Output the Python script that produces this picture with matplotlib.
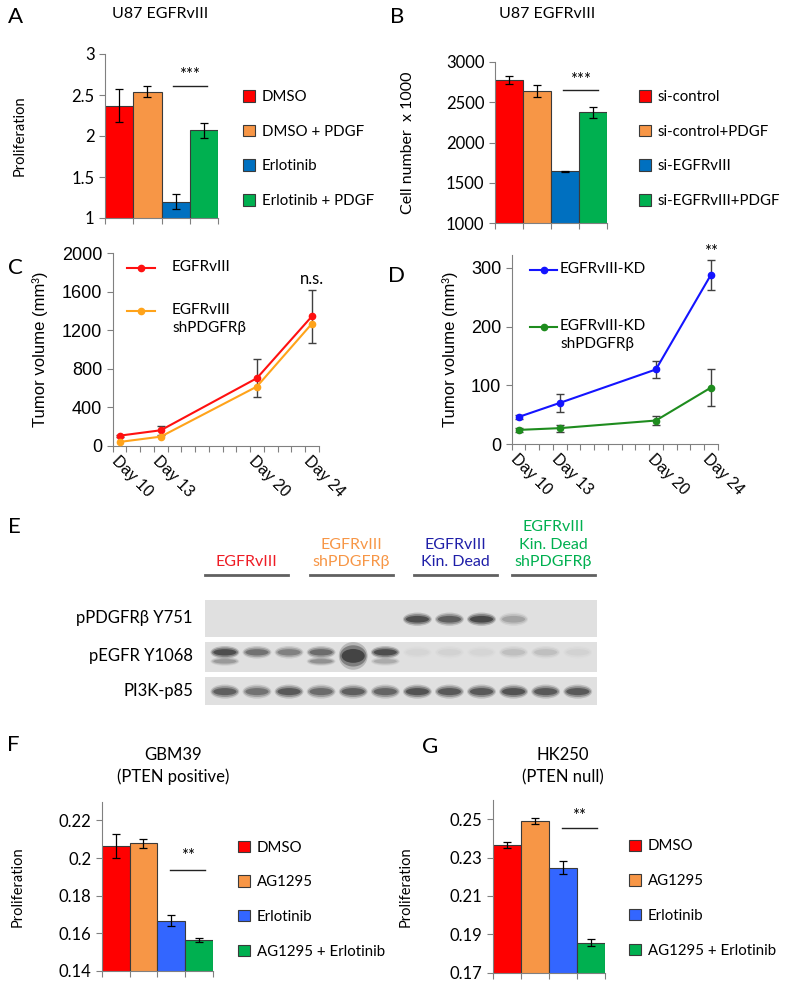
import numpy as np
import matplotlib
matplotlib.use("Agg")
import matplotlib.pyplot as plt
from matplotlib.patches import Patch, Ellipse

plt.rcParams['font.family'] = ['Lato', 'DejaVu Sans']

W, H = 789, 985
RED, ORANGE, BLUE, GREEN = '#ff0000', '#f79646', '#0070c0', '#00b050'
BLUE2 = '#3366ff'
ARIAL = ['Liberation Sans', 'DejaVu Sans']

# ---- data ----
a_labels = ['DMSO', 'DMSO + PDGF', 'Erlotinib', 'Erlotinib + PDGF']
a_vals = [2.37, 2.54, 1.20, 2.07]
a_errs = [0.20, 0.07, 0.09, 0.09]

b_labels = ['si-control', 'si-control+PDGF', 'si-EGFRvIII', 'si-EGFRvIII+PDGF']
b_vals = [2775, 2640, 1640, 2375]
b_errs = [50, 75, 6, 70]

days = [10, 13, 20, 24]
day_labels = ['Day 10', 'Day 13', 'Day 20', 'Day 24']
c_egfr = [107, 163, 703, 1343]
c_egfr_err = [10, 44, 200, 273]
c_sh = [42, 97, 616, 1267]

d_kd = [46, 70, 127, 288]
d_kd_err = [4, 16, 15, 25]
d_kd_sh = [24, 27, 40, 96]
d_kd_sh_err = [4, 6, 7, 31]

f_labels = ['DMSO', 'AG1295', 'Erlotinib', 'AG1295 + Erlotinib']
f_vals = [0.2065, 0.2078, 0.1667, 0.1565]
f_errs = [0.0063, 0.0025, 0.003, 0.001]

g_labels = ['DMSO', 'AG1295', 'Erlotinib', 'AG1295 + Erlotinib']
g_vals = [0.2367, 0.2490, 0.2248, 0.1857]
g_errs = [0.0015, 0.0017, 0.0035, 0.0017]

# western blot: band intensities for the 12 lanes
blot_rows = ['pPDGFRβ Y751', 'pEGFR Y1068', 'PI3K-p85']
blot_groups = ['EGFRvIII', 'EGFRvIII\nshPDGFRβ', 'EGFRvIII\nKin. Dead', 'EGFRvIII\nKin. Dead\nshPDGFRβ']
blot_group_colors = ['#ee1c25', '#f79646', '#1f1fa8', '#00b050']
band_pdgfr = [0, 0, 0, 0, 0, 0, 0.9, 0.75, 0.95, 0.3, 0, 0]
band_egfr = [0.9, 0.6, 0.5, 0.65, 1.0, 0.9, 0.04, 0.06, 0.04, 0.15, 0.15, 0.06]
band_egfr_low = [0.35, 0, 0, 0.4, 0, 0.25, 0, 0, 0, 0, 0, 0]
band_p85 = [0.75, 0.6, 0.8, 0.65, 0.75, 0.7, 0.85, 0.8, 0.8, 0.85, 0.8, 0.8]

fig = plt.figure(figsize=(W / 100, H / 100), dpi=100)


def add_ax(l, t, r, b):
    return fig.add_axes([l / W, 1 - b / H, (r - l) / W, (b - t) / H])


def ftext(x, y, s, **kw):
    fig.text(x / W, 1 - y / H, s, **kw)


def bar_panel(ax, labels, vals, errs, colors, ylim, yticks, ylabel, ylabel_x,
              sig, stars, leg_xy, ylfs=10.5):
    x = np.arange(len(vals))
    ax.bar(x, vals, width=1.0, color=colors, edgecolor='#3a3a3a', linewidth=0.8,
           yerr=errs, capsize=3, error_kw=dict(elinewidth=0.9, capthick=0.9, ecolor='black'))
    ax.set_xlim(-0.5, len(vals) - 0.5)
    ax.set_ylim(*ylim)
    ax.set_yticks(yticks)
    ax.set_yticklabels([f'{v:g}' for v in yticks], fontsize=12)
    ax.set_xticks(np.arange(len(vals) + 1) - 0.5)
    ax.set_xticklabels([])
    for s in ['top', 'right']:
        ax.spines[s].set_visible(False)
    for s in ['left', 'bottom']:
        ax.spines[s].set_color('#808080')
    ax.tick_params(color='#808080', length=4, width=0.8)
    ax.set_ylabel(ylabel, fontsize=ylfs)
    pos = ax.get_position()
    ax.yaxis.set_label_coords(ylabel_x / W, pos.y0 + pos.height / 2, transform=fig.transFigure)
    x0, x1, yl, ys = sig
    ax.plot([x0, x1], [yl, yl], color='#222222', lw=1)
    ax.text((x0 + x1) / 2, ys, stars, ha='center', va='center', fontsize=12)
    handles = [Patch(facecolor=c, edgecolor='#3a3a3a', linewidth=0.8) for c in colors]
    ax.legend(handles, labels, loc='upper left', bbox_to_anchor=(leg_xy[0] / W, 1 - leg_xy[1] / H),
              bbox_transform=fig.transFigure, frameon=False, fontsize=10.8,
              handlelength=0.8, handleheight=0.8, handletextpad=0.45,
              labelspacing=1.38, borderpad=0, borderaxespad=0)


def line_panel(ax, ylim, yticks, series, ylabel, ylabel_x, note, note_y):
    for vals, err, col in series:
        ax.plot(days, vals, color=col, lw=1.5, marker='o', ms=4.5, zorder=3)
        if err is not None:
            ax.errorbar(days, vals, yerr=err, fmt='none', ecolor='#404040', elinewidth=1,
                        capsize=3, capthick=1, zorder=2)
    ax.set_xlim(9.5, 24.5)
    ax.set_ylim(*ylim)
    ax.set_yticks(yticks)
    ax.set_yticklabels([str(v) for v in yticks], family=ARIAL, fontsize=13)
    ax.set_xticks(days)
    ax.set_xticklabels(day_labels, family=ARIAL, fontsize=11.5, rotation=-45,
                       ha='left', va='top', rotation_mode='anchor')
    ax.set_xticks(np.arange(9.5, 25, 1.0), minor=True)
    ax.tick_params(axis='x', which='major', length=0, pad=5)
    ax.tick_params(axis='x', which='minor', length=4, color='#808080', width=0.8)
    ax.tick_params(axis='y', length=4, color='#808080', width=0.8)
    for s in ['top', 'right']:
        ax.spines[s].set_visible(False)
    for s in ['left', 'bottom']:
        ax.spines[s].set_color('#808080')
    ax.set_ylabel(ylabel, family=ARIAL, fontsize=12)
    pos = ax.get_position()
    ax.yaxis.set_label_coords(ylabel_x / W, pos.y0 + pos.height / 2, transform=fig.transFigure)
    ax.text(24, note_y, note, ha='center', va='center', fontsize=12)


def line_legend(x0, x1, y, col, label, tx):
    # legend sample drawn in figure pixels
    fig.add_artist(plt.Line2D([x0 / W, x1 / W], [1 - y / H] * 2, color=col, lw=1.5))
    fig.add_artist(plt.Line2D([(x0 + x1) / 2 / W], [1 - y / H], color=col, marker='o', ms=4.5))
    ftext(tx, y - 8, label, ha='left', va='top', fontsize=11, linespacing=1.4)


# ---- A ----
axA = add_ax(105, 54, 218, 218)
bar_panel(axA, a_labels, a_vals, a_errs, [RED, ORANGE, BLUE, GREEN], (1, 3),
          [1, 1.5, 2, 2.5, 3], 'Proliferation', 27,
          (1.9, 3.1, 2.61, 2.74), '***', (243, 90))
ftext(160, 14, 'U87 EGFRvIII', ha='center', va='center', fontsize=11.5)
ftext(15, 17, 'A', ha='center', va='center', fontsize=16)

# ---- B ----
axB = add_ax(495, 62, 607, 223)
bar_panel(axB, b_labels, b_vals, b_errs, [RED, ORANGE, BLUE, GREEN], (1000, 3000),
          [1000, 1500, 2000, 2500, 3000], 'Cell number  x 1000', 415,
          (1.92, 3.19, 2655, 2780), '***', (639, 90), ylfs=11.5)
ftext(547, 14, 'U87 EGFRvIII', ha='center', va='center', fontsize=11.5)
ftext(397, 17, 'B', ha='center', va='center', fontsize=16)

# ---- C ----
axC = add_ax(112.7, 253, 318.7, 446)
line_panel(axC, (0, 2000), [0, 400, 800, 1200, 1600, 2000],
           [(c_egfr, c_egfr_err, '#ff1010'), (c_sh, None, '#ffa31a')],
           'Tumor volume (mm³)', 48, 'n.s.', 1730)
line_legend(127, 155, 268, '#ff1010', 'EGFRvIII', 172)
line_legend(127, 155, 311, '#ffa31a', 'EGFRvIII\nshPDGFRβ', 172)
ftext(15, 268, 'C', ha='center', va='center', fontsize=16)

# ---- D ----
axD = add_ax(511.7, 255, 717.7, 444)
line_panel(axD, (0, 322), [0, 100, 200, 300],
           [(d_kd, d_kd_err, '#1414ff'), (d_kd_sh, d_kd_sh_err, '#1e8c1e')],
           'Tumor volume (mm³)', 458, '**', 327)
line_legend(530, 557, 270, '#1414ff', 'EGFRvIII-KD', 560)
line_legend(530, 557, 327, '#1e8c1e', 'EGFRvIII-KD\nshPDGFRβ', 560)
ftext(397, 276, 'D', ha='center', va='center', fontsize=16)

# ---- E: western blot ----
ftext(14, 527, 'E', ha='center', va='center', fontsize=16)
row_boxes = [(600, 637), (641.5, 671.5), (676.5, 705)]
row_bands = [[(band_pdgfr, 0.48, 0.24)],
             [(band_egfr, 0.64, 0.28), (band_egfr_low, 0.34, 0.2)],
             [(band_p85, 0.47, 0.33)]]
lanes = np.arange(1, 13)
for i, ((t, b), bands, name) in enumerate(zip(row_boxes, row_bands, blot_rows)):
    ax = add_ax(205, t, 597, b)
    ax.set_facecolor('#e0e0e0')
    ax.set_xlim(0.38, 12.6)
    ax.set_ylim(0, 1)
    ax.set_xticks([])
    ax.set_yticks([])
    for s in ax.spines.values():
        s.set_visible(False)
    for inten, yc, hh in bands:
        for lane, v in zip(lanes, inten):
            if v <= 0:
                continue
            tall = 2.2 if (i == 1 and lane == 5) else 1.0
            for sw, sh, al in [(1.0, 1.5, 0.2), (0.92, 1.15, 0.35), (0.8, 0.75, 0.55)]:
                ax.add_patch(Ellipse((lane, yc - (0.12 if tall > 1 else 0)), 0.9 * sw, hh * sh * tall,
                                     facecolor='#151515', edgecolor='none', alpha=min(1, al * v)))
    ftext(193, (t + b) / 2, name, ha='right', va='center', fontsize=12)

group_spans = [(205, 288), (310, 393), (414, 497), (512, 595)]
for (l, r), name, col in zip(group_spans, blot_groups, blot_group_colors):
    fig.add_artist(plt.Line2D([l / W, r / W], [1 - 575 / H] * 2, color='#606060', lw=2))
    ftext((l + r) / 2, 569, name, ha='center', va='bottom', fontsize=11.5, color=col, linespacing=1.3)

# ---- F ----
axF = add_ax(101.7, 801.7, 213, 970.7)
bar_panel(axF, f_labels, f_vals, f_errs, [RED, ORANGE, BLUE2, GREEN], (0.14, 0.23),
          [0.14, 0.16, 0.18, 0.2, 0.22], 'Proliferation', 25,
          (1.96, 3.22, 0.1937, 0.2010), '**', (238, 840.5))
ftext(173, 755, 'GBM39', ha='center', va='center', fontsize=12)
ftext(173, 777, '(PTEN positive)', ha='center', va='center', fontsize=12)
ftext(13, 745, 'F', ha='center', va='center', fontsize=16)

# ---- G ----
axG = add_ax(492.7, 800, 605, 972.7)
bar_panel(axG, g_labels, g_vals, g_errs, [RED, ORANGE, BLUE2, GREEN], (0.17, 0.26),
          [0.17, 0.19, 0.21, 0.23, 0.25], 'Proliferation', 413,
          (1.955, 3.22, 0.2456, 0.2515), '**', (629, 839.5))
ftext(563, 755, 'HK250', ha='center', va='center', fontsize=12)
ftext(563, 777, '(PTEN null)', ha='center', va='center', fontsize=12)
ftext(430, 747, 'G', ha='center', va='center', fontsize=16)

plt.savefig('out.png', dpi=100)
